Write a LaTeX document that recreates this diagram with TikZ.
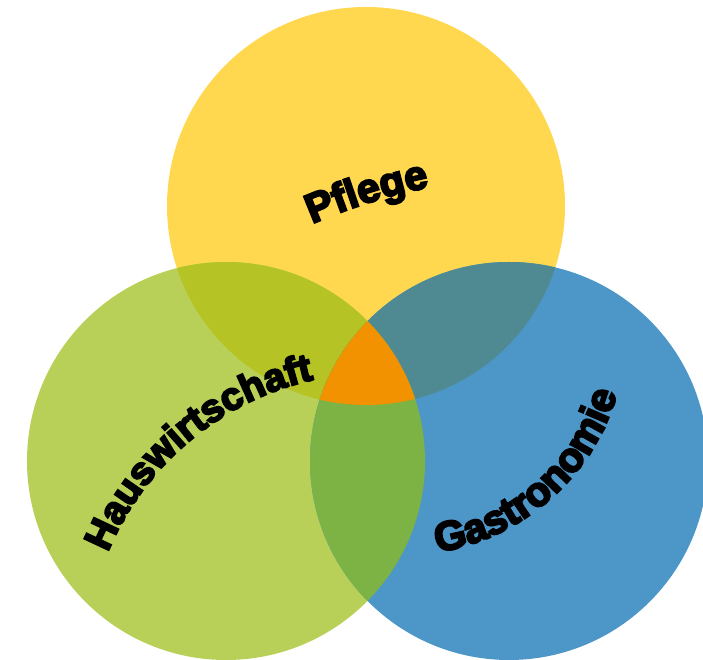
\documentclass[tikz,border=0pt]{standalone}
\usepackage{fontspec}
\newfontfamily\lblfont{Liberation Sans}[BoldFeatures={FakeBold=5}]
\usetikzlibrary{decorations.text}
\definecolor{cyel}{HTML}{FFD84F}
\definecolor{cgrn}{HTML}{B8D058}
\definecolor{cblu}{HTML}{4D96C8}
\definecolor{cyg}{HTML}{B5C424}
\definecolor{cyb}{HTML}{4F8A92}
\definecolor{cgb}{HTML}{7DB245}
\definecolor{corg}{HTML}{F29200}
\tikzset{
  curvedlabel/.style 2 args={decorate, decoration={text along path, text align=center, text={|\lblfont\bfseries\fontsize{#1}{#1}\selectfont|#2}}}
}
\begin{document}
\begin{tikzpicture}[x=1pt,y=1pt]
\useasboundingbox (0,0) rectangle (703,660);
\clip (0,0) rectangle (703,660);
\coordinate (Y) at (366,454);
\coordinate (G) at (226,199);
\coordinate (B) at (509,199);
\def\rr{199}
\fill[cyel] (Y) circle (\rr);
\fill[cgrn] (G) circle (\rr);
\fill[cblu] (B) circle (\rr);
\begin{scope}
  \clip (Y) circle (\rr);
  \fill[cyg] (G) circle (\rr);
  \fill[cyb] (B) circle (\rr);
\end{scope}
\begin{scope}
  \clip (G) circle (\rr);
  \fill[cgb] (B) circle (\rr);
\end{scope}
\begin{scope}
  \clip (Y) circle (\rr);
  \clip (G) circle (\rr);
  \fill[corg] (B) circle (\rr);
\end{scope}
% labels
\coordinate (pc) at (542,-92);
\coordinate (hc) at (376,-3);
\coordinate (gc) at (402,329);
\path[curvedlabel={41}{Pflege}] (pc) ++(120:576) arc[start angle=120, end angle=94.8, radius=576];
\path[curvedlabel={39}{Hauswirtschaft}] (hc) ++(174:290) arc[start angle=174, end angle=86, radius=290];
\path[curvedlabel={41}{Gastronomie}] (gc) ++(-103:224) arc[start angle=-103, end angle=6, radius=224];
\end{tikzpicture}
\end{document}
